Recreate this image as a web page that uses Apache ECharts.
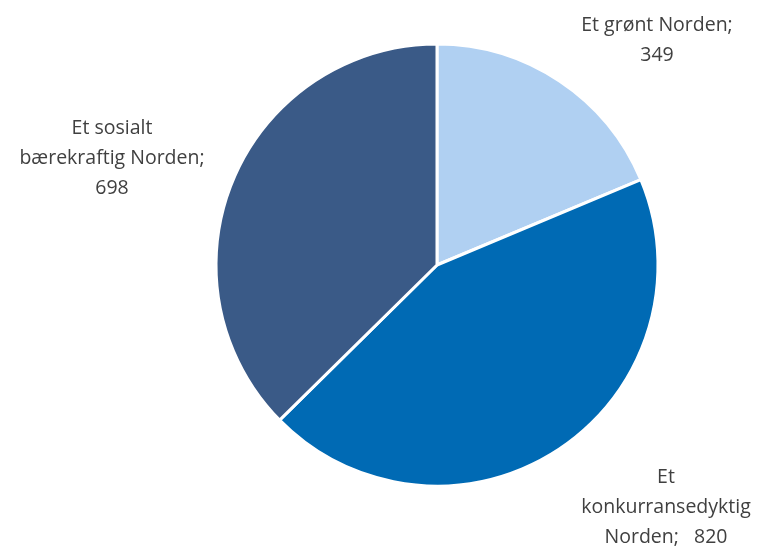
<!DOCTYPE html>
<html><head><meta charset="utf-8">
<script src="https://cdn.jsdelivr.net/npm/echarts@6/dist/echarts.min.js"></script>
<style>html,body{margin:0;padding:0;background:#fff}#c{width:761px;height:548px}</style>
</head><body><div id="c"></div>
<script>
const categories = ['Et grønt Norden', 'Et konkurransedyktig Norden', 'Et sosialt bærekraftig Norden'];
const labelTexts = ['Et grønt Norden;\n349', 'Et\nkonkurransedyktig\nNorden;   820', 'Et sosialt\nbærekraftig Norden;\n698'];
const values = [349, 820, 698];
const colors = ['#B0D0F2', '#006AB4', '#3A5A87'];
const labelPos = [[657, 40], [666, 507], [112, 158]];

const chart = echarts.init(document.getElementById('c'));
chart.setOption({
  animation: false,
  series: [{
    type: 'pie',
    center: [437, 265],
    radius: 221,
    startAngle: 90,
    clockwise: true,
    data: categories.map((c, i) => ({ name: c, value: values[i], itemStyle: { color: colors[i] } })),
    itemStyle: { borderColor: '#fff', borderWidth: 3 },
    label: {
      show: true,
      position: 'outside',
      formatter: p => labelTexts[p.dataIndex],
      color: '#404040',
      fontFamily: 'Open Sans',
      fontSize: 19.5,
      lineHeight: 30,
      align: 'center',
      overflow: 'none',
      width: 400
    },
    labelLine: { show: false },
    labelLayout: p => ({ x: labelPos[p.dataIndex][0], y: labelPos[p.dataIndex][1], align: 'center', verticalAlign: 'middle' }),
    emphasis: { disabled: true }
  }]
});
</script></body></html>
